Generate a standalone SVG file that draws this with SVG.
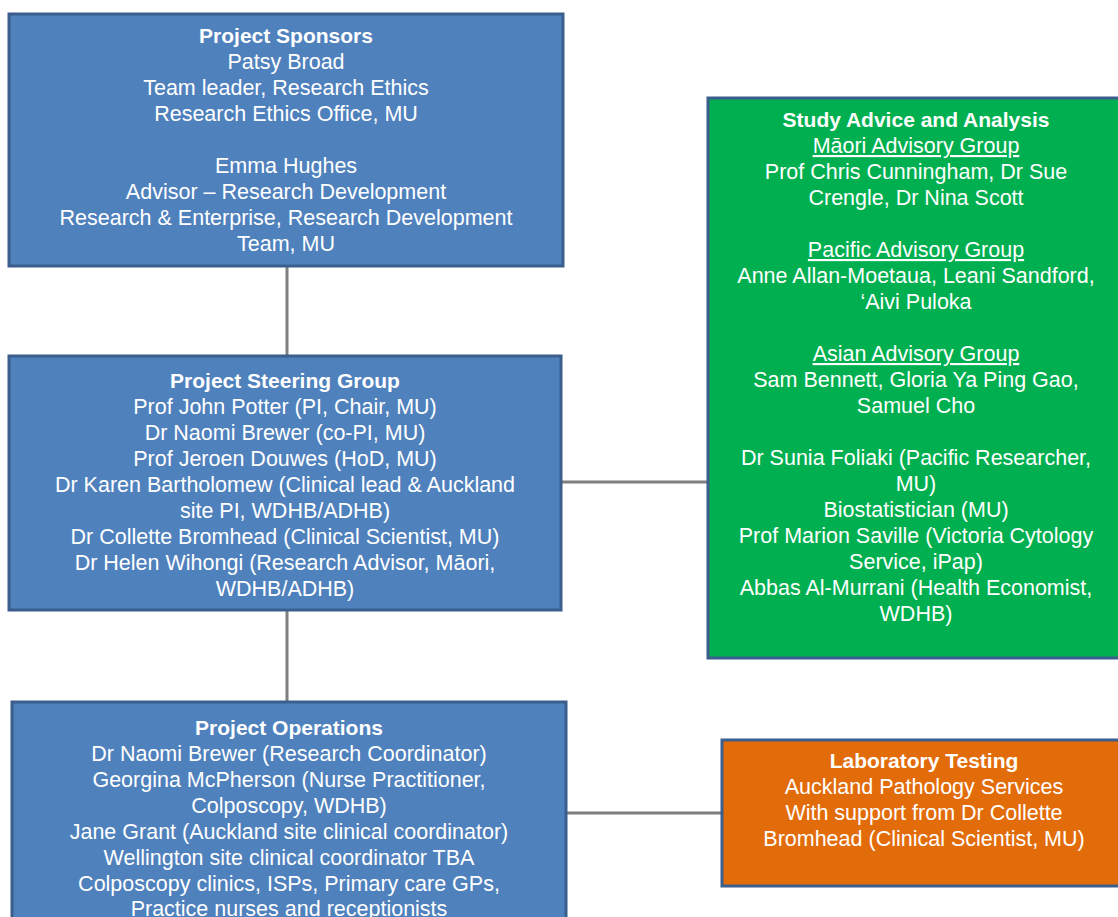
<svg xmlns="http://www.w3.org/2000/svg" width="1118" height="917" viewBox="0 0 1118 917">
  <style>
    .box { stroke: #3b5e8c; stroke-width: 3; }
    .blue { fill: #4f81bd; }
    .green { fill: #00b050; }
    .orange { fill: #e36c0a; }
    .conn { stroke: #7f7f7f; stroke-width: 3; fill: none; }
    text { font-family: "Liberation Sans", Arial, sans-serif; font-size: 21.5px; fill: #ffffff; text-anchor: middle; }
    .h { font-weight: bold; font-size: 21px; }
    .u { text-decoration: underline; }
  </style>
  <rect width="1118" height="917" fill="#ffffff"/>

  <!-- connectors -->
  <g id="connectors">
    <line class="conn" x1="287" y1="266" x2="287" y2="355"/>
    <line class="conn" x1="287" y1="610" x2="287" y2="701"/>
    <line class="conn" x1="561" y1="482" x2="708" y2="482"/>
    <line class="conn" x1="566" y1="813" x2="722" y2="813"/>
  </g>

  <g id="sponsors">
    <rect class="box blue" x="9" y="14" width="554" height="252"/>
    <text x="286" y="43" class="h">Project Sponsors</text>
    <text x="286" y="69">Patsy Broad</text>
    <text x="286" y="95">Team leader, Research Ethics</text>
    <text x="286" y="121">Research Ethics Office, MU</text>
    <text x="286" y="173">Emma  Hughes</text>
    <text x="286" y="199">Advisor – Research Development</text>
    <text x="286" y="225">Research &amp; Enterprise, Research Development</text>
    <text x="286" y="251">Team,  MU</text>
  </g>

  <g id="steering">
    <rect class="box blue" x="9" y="356" width="552" height="254"/>
    <text x="285" y="388" class="h">Project Steering Group</text>
    <text x="285" y="414">Prof John Potter (PI, Chair, MU)</text>
    <text x="285" y="440">Dr Naomi  Brewer (co-PI, MU)</text>
    <text x="285" y="466">Prof Jeroen Douwes (HoD,  MU)</text>
    <text x="285" y="492">Dr Karen Bartholomew (Clinical lead &amp; Auckland</text>
    <text x="285" y="518">site PI, WDHB/ADHB)</text>
    <text x="285" y="544">Dr Collette Bromhead (Clinical Scientist, MU)</text>
    <text x="285" y="570">Dr Helen  Wihongi (Research Advisor, Māori,</text>
    <text x="285" y="596">WDHB/ADHB)</text>
  </g>

  <g id="operations">
    <rect class="box blue" x="12" y="702" width="554" height="230"/>
    <text x="289" y="735" class="h">Project Operations</text>
    <text x="289" y="761">Dr Naomi  Brewer (Research Coordinator)</text>
    <text x="289" y="787">Georgina McPherson (Nurse Practitioner,</text>
    <text x="289" y="813">Colposcopy, WDHB)</text>
    <text x="289" y="839">Jane Grant (Auckland  site clinical coordinator)</text>
    <text x="289" y="865">Wellington site clinical coordinator TBA</text>
    <text x="289" y="891">Colposcopy clinics, ISPs, Primary care GPs,</text>
    <text x="289" y="916">Practice nurses and receptionists</text>
  </g>

  <g id="advice">
    <rect class="box green" x="708" y="98" width="420" height="560"/>
    <text x="916" y="127" class="h">Study Advice and Analysis</text>
    <text x="916" y="153" class="u">Māori Advisory Group</text>
    <text x="916" y="179">Prof Chris Cunningham,  Dr Sue</text>
    <text x="916" y="205">Crengle, Dr Nina Scott</text>
    <text x="916" y="257" class="u">Pacific Advisory Group</text>
    <text x="916" y="283">Anne  Allan-Moetaua, Leani Sandford,</text>
    <text x="916" y="309">‘Aivi Puloka</text>
    <text x="916" y="361" class="u">Asian Advisory Group</text>
    <text x="916" y="387">Sam Bennett, Gloria Ya Ping Gao,</text>
    <text x="916" y="413">Samuel  Cho</text>
    <text x="916" y="465">Dr Sunia Foliaki (Pacific Researcher,</text>
    <text x="916" y="491">MU)</text>
    <text x="916" y="517">Biostatistician (MU)</text>
    <text x="916" y="543">Prof Marion Saville (Victoria Cytology</text>
    <text x="916" y="569">Service, iPap)</text>
    <text x="916" y="595">Abbas Al-Murrani  (Health Economist,</text>
    <text x="916" y="621">WDHB)</text>
  </g>

  <g id="laboratory">
    <rect class="box orange" x="722" y="740" width="410" height="146"/>
    <text x="924" y="768" class="h">Laboratory Testing</text>
    <text x="924" y="794">Auckland  Pathology Services</text>
    <text x="924" y="820">With support from Dr Collette</text>
    <text x="924" y="846">Bromhead (Clinical Scientist, MU)</text>
  </g>
</svg>
